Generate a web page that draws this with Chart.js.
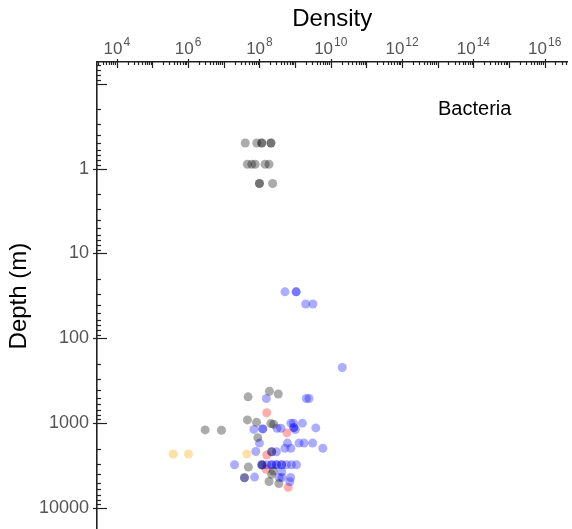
<!DOCTYPE html>
<html><head><meta charset="utf-8">
<script src="https://cdn.jsdelivr.net/npm/chart.js@4/dist/chart.umd.min.js"></script>
<style>html,body{margin:0;padding:0;background:#fff;overflow:hidden}#wrap{width:572px;height:529px;position:relative;overflow:hidden}canvas{display:block}</style>
</head><body><div id="wrap"><canvas id="c" width="572" height="549"></canvas></div>
<script>
// ---- data (density in cells, depth in m) ----
const grayDensity = [4.0e7, 8.4e7, 1.16e8, 1.16e8, 2.1e8, 2.1e8,
  4.6e7, 6.1e7, 7.6e7, 1.44e8, 1.86e8,
  1.0e8, 1.0e8, 2.34e8,
  1.9e8, 3.37e8, 4.8e7, 4.6e7, 8.3e7, 2.08e8, 2.5e8, 3.0e6, 8.6e6, 9.0e7,
  2.2e8, 1.2e8, 4.9e7, 2.45e8, 2.2e8, 3.8e7, 1.86e8, 3.5e8];
const grayDepth = [0.5, 0.5, 0.5, 0.5, 0.5, 0.5,
  0.89, 0.89, 0.89, 0.89, 0.89,
  1.5, 1.5, 1.5,
  420, 452, 488, 912, 975, 1008, 1025, 1197, 1206, 1475,
  2160, 3100, 3270, 3650, 3990, 4380, 4850, 5130];

const blueDensity = [5.2e8, 1.07e9, 1.07e9, 1.98e9, 3.16e9, 2.1e10,
  1.56e8, 2.06e9, 2.45e9,
  7.6e8, 9.0e8, 1.6e9,
  7.0e7, 1.24e8, 1.24e8, 3.1e8, 4.0e8, 9.2e8, 9.2e8, 1.02e9, 3.8e9,
  1.0e8, 6.1e8, 1.29e9, 1.78e9, 3.1e9,
  6.0e9, 5.2e8, 7.6e8,
  7.9e7, 2.2e8, 3.0e8,
  2.0e7, 1.16e8, 1.16e8, 1.6e8, 2.2e8, 2.2e8, 3.0e8, 3.0e8, 4.2e8, 4.2e8, 5.7e8, 7.9e8, 1.09e9,
  4.2e8, 3.8e7, 7.3e7, 3.6e8, 4.35e8, 7.5e8, 7.1e8];
const blueDepth = [28.3, 28.3, 28.3, 39.3, 39.3, 220,
  511, 511, 511,
  997, 997, 997,
  1180, 1164, 1164, 1143, 1143, 1125, 1125, 1186, 1133,
  1710, 1710, 1710, 1710, 1710,
  1968, 1968, 1968,
  2147, 2160, 2160,
  3075, 3075, 3075, 3075, 3075, 3075, 3075, 3075, 3075, 3075, 3075, 3075, 3075,
  3720, 4380, 4300, 4360, 4360, 4350, 4880];

const redDensity = [1.6e8, 5.9e8, 1.6e8, 1.53e8, 6.4e8];
const redDepth = [750, 1298, 2360, 3480, 5680];

const orangeDensity = [3.8e5, 1.02e6, 4.4e7];
const orangeDepth = [2300, 2300, 2300];

const xTickExponents = [4, 6, 8, 10, 12, 14, 16];
const yTickLabels = [1, 10, 100, 1000, 10000];
const xTitle = 'Density';
const yTitle = 'Depth (m)';
const panelLabel = 'Bacteria';

// ---- rendering ----
const FONT = '"Liberation Sans", Arial, sans-serif';
function pts(xs, ys) { return xs.map((x, i) => ({x: x, y: ys[i]})); }
function ds(xs, ys, color) {
  return {data: pts(xs, ys), backgroundColor: color, borderWidth: 0, pointRadius: 4.5, pointHoverRadius: 4.5};
}

const tickPlugin = {
  id: 'ticksAndLabels',
  afterDraw(chart) {
    const ctx = chart.ctx, ca = chart.chartArea;
    const xs = chart.scales.x, ys = chart.scales.y;
    ctx.save();
    ctx.strokeStyle = '#222';
    ctx.lineWidth = 1.2;
    const e0 = Math.floor(Math.log10(xs.min)), e1 = Math.ceil(Math.log10(xs.max));
    for (let e = e0; e <= e1; e++) {
      for (let m = 1; m <= 9; m++) {
        const v = m * Math.pow(10, e);
        if (v < xs.min || v > xs.max) continue;
        const px = Math.round(xs.getPixelForValue(v)) + 0.5;
        let a = ca.top, b = ca.top + 3;
        if (m === 1) { b = ca.top + 6; if (xTickExponents.includes(e)) a = ca.top - 3; }
        ctx.beginPath(); ctx.moveTo(px, a); ctx.lineTo(px, b); ctx.stroke();
      }
    }
    const f0 = Math.floor(Math.log10(ys.min)), f1 = Math.ceil(Math.log10(ys.max));
    for (let e = f0; e <= f1; e++) {
      for (let m = 1; m <= 9; m++) {
        const v = m * Math.pow(10, e);
        if (v < ys.min || v > ys.max) continue;
        const py = Math.round(ys.getPixelForValue(v)) + 0.5;
        let a = ca.left, b = ca.left + 4;
        if (m === 1) { b = ca.left + 10; if (yTickLabels.includes(v)) a = ca.left - 4; }
        ctx.beginPath(); ctx.moveTo(a, py); ctx.lineTo(b, py); ctx.stroke();
      }
    }
    ctx.fillStyle = '#555';
    ctx.textBaseline = 'alphabetic';
    ctx.textAlign = 'left';
    xTickExponents.forEach(e => {
      const px = xs.getPixelForValue(Math.pow(10, e));
      ctx.font = '17px ' + FONT;
      const wb = ctx.measureText('10').width;
      ctx.font = '12px ' + FONT;
      const we = ctx.measureText(String(e)).width;
      const start = px - (wb + we + 1) / 2;
      ctx.font = '17px ' + FONT;
      ctx.fillText('10', start, 54);
      ctx.font = '12px ' + FONT;
      ctx.fillText(String(e), start + wb + 1, 46);
    });
    ctx.fillStyle = '#000';
    ctx.font = '20px ' + FONT;
    ctx.textBaseline = 'middle';
    ctx.fillText(panelLabel, 438, 109);
    ctx.restore();
  }
};

new Chart(document.getElementById('c'), {
  type: 'scatter',
  data: {datasets: [
    ds(grayDensity, grayDepth, 'rgba(0,0,0,0.33)'),
    ds(blueDensity, blueDepth, 'rgba(0,0,255,0.32)'),
    ds(redDensity, redDepth, 'rgba(255,0,0,0.32)'),
    ds(orangeDensity, orangeDepth, 'rgba(255,165,0,0.35)')
  ]},
  options: {
    responsive: false, animation: false, devicePixelRatio: 1,
    layout: {padding: 0},
    plugins: {legend: {display: false}, tooltip: {enabled: false}},
    events: [],
    scales: {
      x: {
        type: 'logarithmic', position: 'top', min: 2783, max: 4.35e16, bounds: 'data',
        grid: {display: false, drawTicks: false},
        border: {display: true, color: '#222', width: 1.6},
        ticks: {display: false},
        title: {display: true, text: xTitle, color: '#000', font: {family: FONT, size: 24}, padding: {top: 5, bottom: 0}},
        afterFit(s) { s.height = 62; }
      },
      y: {
        type: 'logarithmic', reverse: true, min: 0.0556, max: 18150, bounds: 'data',
        grid: {display: false, drawTicks: false},
        border: {display: true, color: '#222', width: 1.6},
        ticks: {
          autoSkip: false, padding: 8, color: '#555', font: {family: FONT, size: 18},
          callback(v) { return yTickLabels.includes(v) ? String(v) : ''; }
        },
        afterBuildTicks(s) { s.ticks = yTickLabels.map(v => ({value: v})); },
        title: {display: true, text: yTitle, color: '#000', font: {family: FONT, size: 24}, padding: {top: 5, bottom: 0}},
        afterFit(s) { s.width = 97; }
      }
    }
  },
  plugins: [tickPlugin]
});
</script>
</body></html>
